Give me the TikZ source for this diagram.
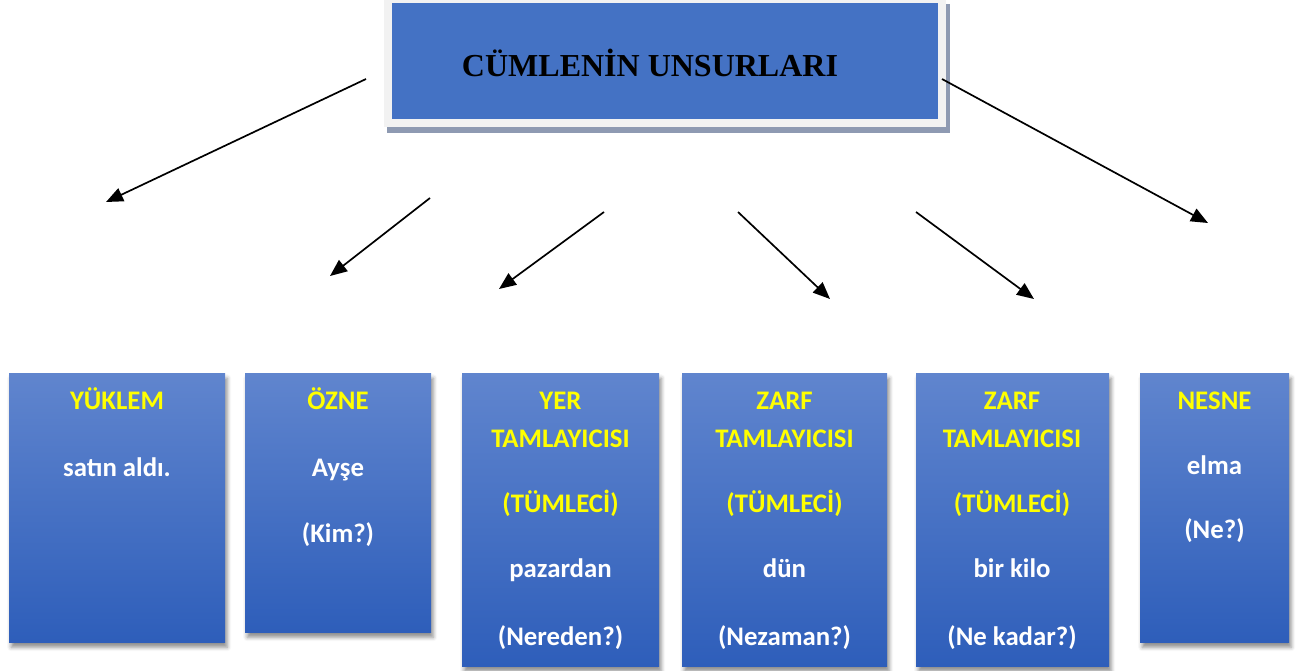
\documentclass[tikz,border=0pt]{standalone}
\usepackage{fontspec}
\setmainfont{Carlito}
\newfontfamily\titlefont{Liberation Serif}
\usetikzlibrary{arrows.meta,shadows.blur}
\definecolor{titleblue}{RGB}{68,114,196}
\definecolor{framegray}{RGB}{242,242,242}
\definecolor{shadowgray}{RGB}{142,154,178}
\definecolor{boxtop}{RGB}{96,133,206}
\definecolor{boxbottom}{RGB}{46,94,186}
\definecolor{labelyellow}{RGB}{255,255,0}
\tikzset{
  ubox/.style={rectangle, inner sep=0pt, anchor=north west, top color=boxtop, bottom color=boxbottom, draw=none,
    blur shadow={shadow xshift=2pt, shadow yshift=-5pt, shadow blur radius=4pt, shadow opacity=45}},
  boxtxt/.style={anchor=base, font=\fontsize{26.8}{30}\selectfont\bfseries, inner sep=0pt},
  yel/.style={boxtxt, text=labelyellow},
  wht/.style={boxtxt, text=white},
  arr/.style={line width=1.7pt, -{Triangle[length=17pt,width=14pt]}},
  plain/.style={rectangle, inner sep=0pt, anchor=north west, draw=none}
}
\begin{document}
\begin{tikzpicture}[x=1pt,y=-1pt]
\useasboundingbox (0,0) rectangle (1306,670);
% title box
\node[plain, fill=shadowgray, minimum width=563pt, minimum height=129pt] (tshadow) at (387,4) {};
\node[plain, fill=framegray, minimum width=562pt, minimum height=127pt] (tframe) at (384,0) {};
\node[plain, fill=titleblue, minimum width=546pt, minimum height=116pt] (tblue) at (392,3) {};
\node[anchor=base, font=\titlefont\bfseries\fontsize{32}{36}\selectfont, inner sep=0pt] (title) at (650,76) {CÜMLENİN UNSURLARI};
% arrows
\coordinate (s1) at (366,79);  \coordinate (e1) at (106,202);
\coordinate (s2) at (430,198); \coordinate (e2) at (330,276);
\coordinate (s3) at (604,212); \coordinate (e3) at (499,289);
\coordinate (s4) at (738,212); \coordinate (e4) at (830,299);
\coordinate (s5) at (916,212); \coordinate (e5) at (1034,299);
\coordinate (s6) at (942,79);  \coordinate (e6) at (1208,223);
\draw[arr] (s1) -- (e1);
\draw[arr] (s2) -- (e2);
\draw[arr] (s3) -- (e3);
\draw[arr] (s4) -- (e4);
\draw[arr] (s5) -- (e5);
\draw[arr] (s6) -- (e6);
% boxes
\node[ubox, minimum width=216pt, minimum height=269pt] (b1) at (9,373) {};
\node[ubox, minimum width=186pt, minimum height=259pt] (b2) at (245,373) {};
\node[ubox, minimum width=197pt, minimum height=293pt] (b3) at (462,373) {};
\node[ubox, minimum width=205pt, minimum height=293pt] (b4) at (682,373) {};
\node[ubox, minimum width=193pt, minimum height=293pt] (b5) at (916,373) {};
\node[ubox, minimum width=149pt, minimum height=269pt] (b6) at (1140,373) {};
% box 1
\node[yel] (b1l1) at (117,409) {YÜKLEM};
\node[wht] (b1l2) at (117,476) {satın aldı.};
% box 2
\node[yel] (b2l1) at (338,409) {ÖZNE};
\node[wht] (b2l2) at (338,476) {Ayşe};
\node[wht] (b2l3) at (338,542) {(Kim?)};
% box 3
\node[yel] (b3l1) at (560.5,409) {YER};
\node[yel] (b3l2) at (560.5,447) {TAMLAYICISI};
\node[yel] (b3l3) at (560.5,512) {(TÜMLECİ)};
\node[wht] (b3l4) at (560.5,577) {pazardan};
\node[wht] (b3l5) at (560.5,645) {(Nereden?)};
% box 4
\node[yel] (b4l1) at (784.5,409) {ZARF};
\node[yel] (b4l2) at (784.5,447) {TAMLAYICISI};
\node[yel] (b4l3) at (784.5,512) {(TÜMLECİ)};
\node[wht] (b4l4) at (784.5,577) {dün};
\node[wht] (b4l5) at (784.5,645) {(Nezaman?)};
% box 5
\node[yel] (b5l1) at (1012,409) {ZARF};
\node[yel] (b5l2) at (1012,447) {TAMLAYICISI};
\node[yel] (b5l3) at (1012,512) {(TÜMLECİ)};
\node[wht] (b5l4) at (1012,577) {bir kilo};
\node[wht] (b5l5) at (1012,645) {(Ne kadar?)};
% box 6
\node[yel] (b6l1) at (1214.5,409) {NESNE};
\node[wht] (b6l2) at (1214.5,474) {elma};
\node[wht] (b6l3) at (1214.5,538) {(Ne?)};
\end{tikzpicture}
\end{document}
